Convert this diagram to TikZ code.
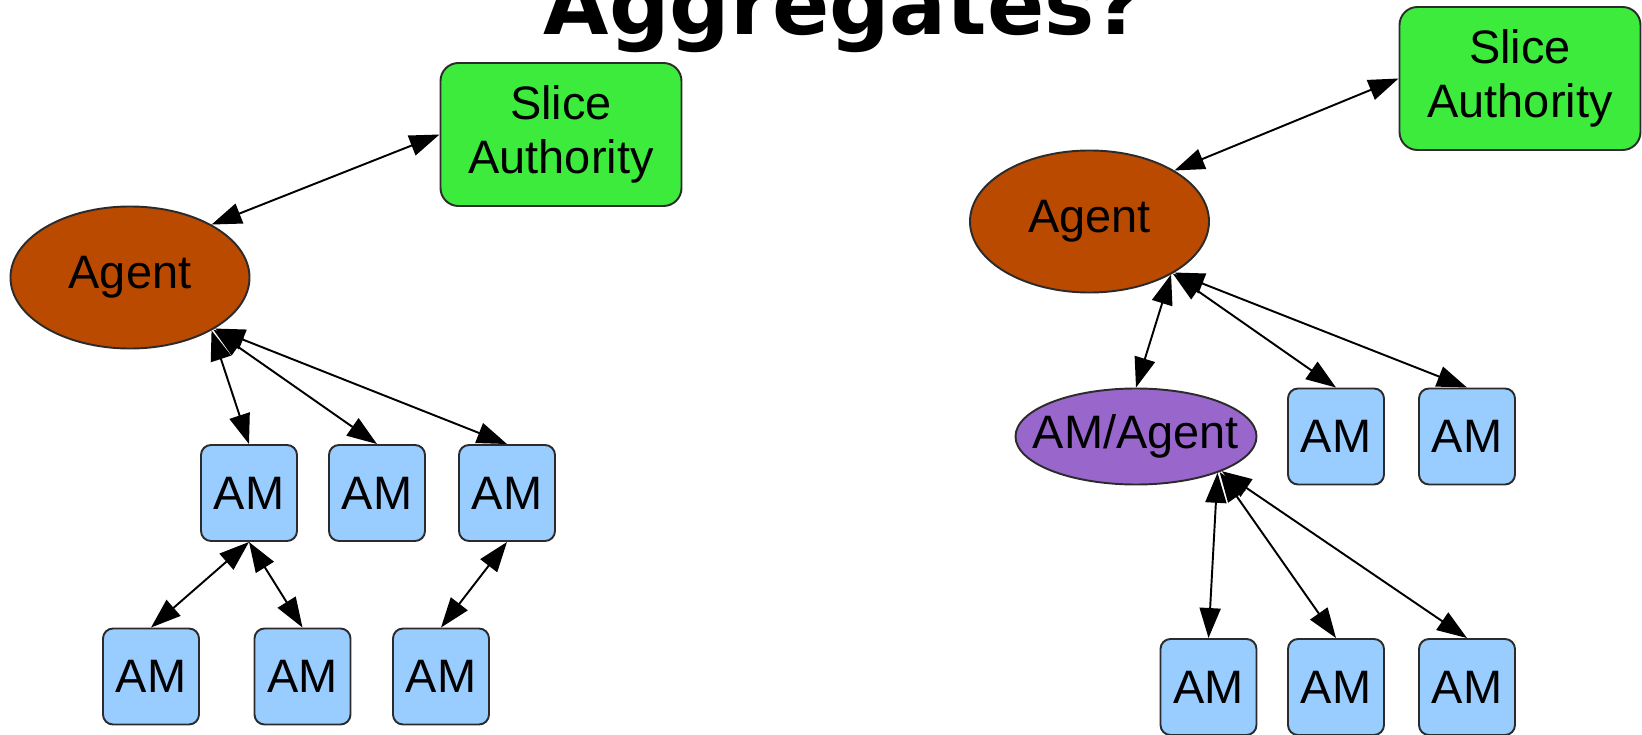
\documentclass[tikz,border=0pt]{standalone}
\usepackage{fontspec}
\setmainfont{Liberation Sans}
\newfontfamily\titlefont{DejaVu Sans}
\usetikzlibrary{shapes.geometric,arrows.meta}
\definecolor{sagreen}{HTML}{3DEB3D}
\definecolor{agentbrown}{HTML}{B94A00}
\definecolor{mixpurple}{HTML}{9966CC}
\definecolor{amblue}{HTML}{99CCFF}
\definecolor{rimgray}{HTML}{2B2B2B}

\begin{document}
\begin{tikzpicture}[
    every node/.style={font=\fontsize{26.7}{30.4}\selectfont},
    am/.style={draw=rimgray, line width=1.1pt, fill=amblue, rounded corners=0.2cm,
        minimum width=1.92cm, minimum height=1.92cm, inner sep=0pt},
    authority/.style={draw=rimgray, line width=1.1pt, fill=sagreen, rounded corners=0.36cm,
        minimum width=4.82cm, minimum height=2.86cm, inner sep=0pt, align=center},
    agent/.style={ellipse, draw=rimgray, line width=1.1pt, fill=agentbrown,
        minimum width=4.78cm, minimum height=2.84cm, inner sep=0pt},
    link/.style={{Triangle[length=0.6cm,width=0.42cm]}-{Triangle[length=0.6cm,width=0.42cm]}, line width=1.1pt}
]
    \newcommand{\upperrow}{4.82}
    \newcommand{\lowerrow}{1.15}
    \newcommand{\rightupper}{5.95}
    \newcommand{\rightlower}{0.94}
    \path[use as bounding box] (0,0) rectangle (32.84,14.68);
    \clip (0,0) rectangle (32.84,14.68);

    \node[font=\titlefont\bfseries\fontsize{48.1}{58}\selectfont, anchor=base] (title) at (16.88,13.99) {Aggregates?};

    % left tree
    \node[authority] (saL) at (11.22,11.99) {Slice\\Authority};
    \node[agent] (agentL) at (2.60,9.13) {Agent};
    \node[am] (amL1) at (4.98,\upperrow) {AM};
    \node[am] (amL2) at (7.54,\upperrow) {AM};
    \node[am] (amL3) at (10.14,\upperrow) {AM};
    \node[am] (amL4) at (3.02,\lowerrow) {AM};
    \node[am] (amL5) at (6.05,\lowerrow) {AM};
    \node[am] (amL6) at (8.82,\lowerrow) {AM};

    \draw[link] (agentL.33) -- (saL.west);
    \draw[link] (agentL.-33) -- (amL1.north);
    \draw[link] (agentL.-32) -- (amL2.north);
    \draw[link] (agentL.-31) -- (amL3.north);
    \draw[link] (amL1.south) -- (amL4.north);
    \draw[link] (amL1.south) -- (amL5.north);
    \draw[link] (amL3.south) -- (amL6.north);

    % right tree
    \node[authority] (saR) at (30.40,13.11) {Slice\\Authority};
    \node[agent] (agentR) at (21.79,10.25) {Agent};
    \node[agent, fill=mixpurple, minimum width=4.82cm, minimum height=1.92cm,
        label={center:AM/Agent}] (amAgent) at (22.72,\rightupper) {};
    \node[am] (amR1) at (26.72,\rightupper) {AM};
    \node[am] (amR2) at (29.34,\rightupper) {AM};
    \node[am] (amR3) at (24.17,\rightlower) {AM};
    \node[am] (amR4) at (26.72,\rightlower) {AM};
    \node[am] (amR5) at (29.34,\rightlower) {AM};

    \draw[link] (agentR.31) -- (saR.west);
    \draw[link] (agentR.-33) -- (amAgent.north);
    \draw[link] (agentR.-32) -- (amR1.north);
    \draw[link] (agentR.-31) -- (amR2.north);
    \draw[link] (amAgent.-24) -- (amR3.north);
    \draw[link] (amAgent.-23) -- (amR4.north);
    \draw[link] (amAgent.-22) -- (amR5.north);
\end{tikzpicture}
\end{document}
